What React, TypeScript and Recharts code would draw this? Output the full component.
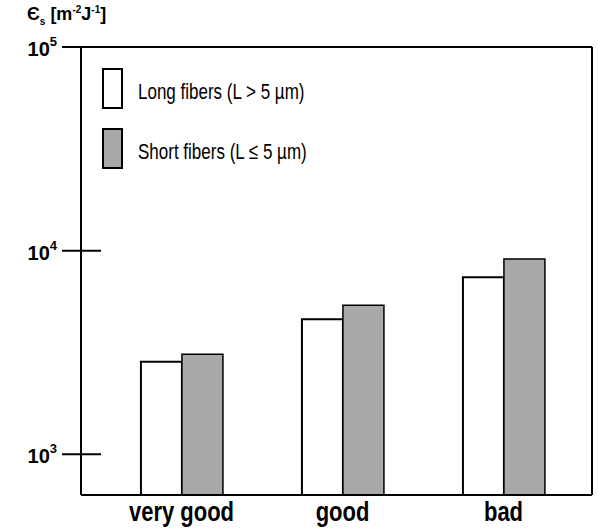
import React from "react";
import { BarChart, Bar, XAxis, YAxis, Legend } from "recharts";

const categories = ["very good", "good", "bad"];
const longFibers = [2850, 4600, 7400];
const shortFibers = [3100, 5400, 9100];
const yTicks = [1000, 10000, 100000];

const FONT = "'Liberation Sans', Arial, Helvetica, sans-serif";
const AXIS_X = 81;

const data = categories.map((name, i) => ({
  name,
  long: longFibers[i],
  short: shortFibers[i],
}));

function YTick(props: any) {
  const { y, payload } = props;
  const exp = Math.round(Math.log10(payload.value));
  return (
    <g>
      <line x1={AXIS_X - 19} x2={AXIS_X + 20} y1={y} y2={y} stroke="#000" strokeWidth={2} />
      <text
        x={AXIS_X - 24}
        y={y + 9}
        textAnchor="end"
        fontFamily={FONT}
        fontWeight="bold"
        fontSize={20}
        fill="#000"
      >
        10
        <tspan dy={-10} fontSize={13}>
          {exp}
        </tspan>
      </text>
    </g>
  );
}

function XTick(props: any) {
  const { x, y, payload } = props;
  return (
    <text
      transform={`translate(${x},${y + 26}) scale(1,1.22)`}
      textAnchor="middle"
      fontFamily={FONT}
      fontWeight="bold"
      fontSize={22}
      fill="#000"
    >
      {payload.value}
    </text>
  );
}

function LegendBox() {
  const items = [
    { label: "Long fibers (L > 5 µm)", fill: "#ffffff" },
    { label: "Short fibers (L ≤ 5 µm)", fill: "#a9a9a9" },
  ];
  return (
    <div style={{ fontFamily: FONT, fontSize: 17, color: "#000" }}>
      {items.map((it, i) => (
        <div
          key={it.label}
          style={{ display: "flex", alignItems: "center", height: 40, marginBottom: i === 0 ? 20 : 0 }}
        >
          <div
            style={{
              width: 17,
              height: 37,
              border: "2px solid #000",
              background: it.fill,
            }}
          />
          <span style={{ marginLeft: 15, display: "inline-block", transform: "scaleY(1.35)", marginTop: 8 }}>
            {it.label}
          </span>
        </div>
      ))}
    </div>
  );
}

export default function App() {
  return (
    <div style={{ position: "absolute", left: 0, top: 0, width: 598, height: 528, background: "#fff" }}>
      <div
        style={{
          position: "absolute",
          left: 27,
          top: 4,
          fontFamily: FONT,
          fontWeight: "bold",
          fontSize: 18,
          color: "#000",
          whiteSpace: "nowrap",
        }}
      >
        Є<sub style={{ fontSize: 10 }}>s</sub> [m<sup style={{ fontSize: 10 }}>-2</sup>J
        <sup style={{ fontSize: 10 }}>-1</sup>]
      </div>
      <BarChart
        width={598}
        height={528}
        data={data}
        margin={{ top: 46, right: 5, bottom: 0, left: 0 }}
        barCategoryGap="24.8%"
        barGap={0}
      >
        <XAxis
          dataKey="name"
          tick={<XTick />}
          tickLine={false}
          tickSize={0}
          tickMargin={0}
          axisLine={{ stroke: "#000", strokeWidth: 2 }}
          padding={{ left: 20, right: 8 }}
          height={33}
        />
        <XAxis
          xAxisId="top"
          orientation="top"
          dataKey="name"
          tick={false}
          tickLine={false}
          axisLine={{ stroke: "#000", strokeWidth: 2 }}
          height={1}
        />
        <YAxis
          yAxisId="right"
          orientation="right"
          tick={false}
          tickLine={false}
          axisLine={{ stroke: "#000", strokeWidth: 2 }}
          width={1}
        />
        <YAxis
          scale="log"
          type="number"
          domain={[631, 100000]}
          allowDataOverflow
          ticks={yTicks}
          tick={<YTick />}
          tickLine={false}
          tickSize={0}
          tickMargin={0}
          axisLine={{ stroke: "#000", strokeWidth: 2 }}
          width={81}
        />
        <Legend
          content={<LegendBox />}
          layout="horizontal"
          verticalAlign="middle"
          align="center"
          wrapperStyle={{ left: 102, top: 68, width: "auto" }}
        />
        <Bar dataKey="long" fill="#ffffff" stroke="#000" strokeWidth={2} isAnimationActive={false} />
        <Bar dataKey="short" fill="#a9a9a9" stroke="#000" strokeWidth={1.5} isAnimationActive={false} />
      </BarChart>
    </div>
  );
}
